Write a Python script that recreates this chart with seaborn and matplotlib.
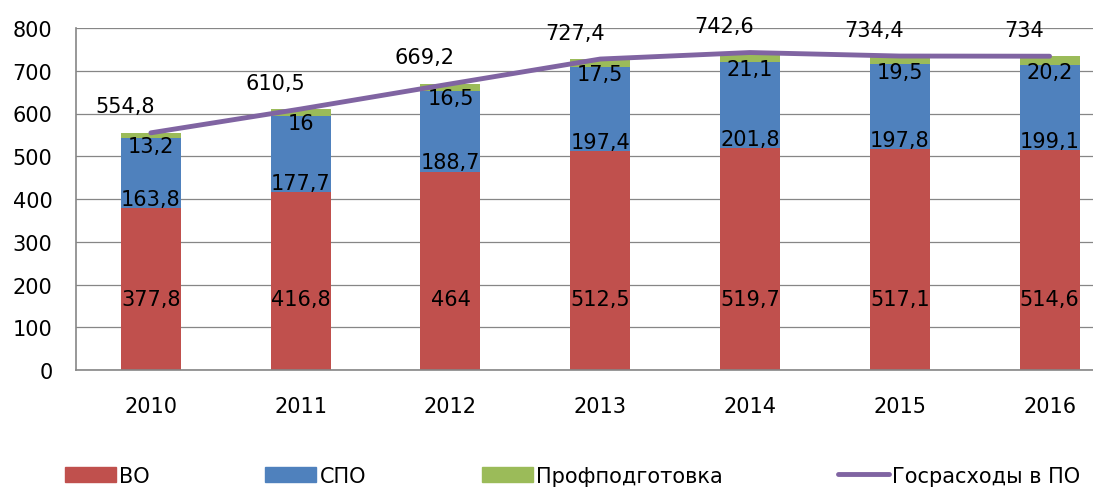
import matplotlib
matplotlib.use("Agg")
import matplotlib.pyplot as plt
import seaborn as sns
import numpy as np
import pandas as pd
from matplotlib.patches import Patch
from matplotlib.lines import Line2D

# Data
years = ["2010", "2011", "2012", "2013", "2014", "2015", "2016"]
vo = [377.8, 416.8, 464, 512.5, 519.7, 517.1, 514.6]
spo = [163.8, 177.7, 188.7, 197.4, 201.8, 197.8, 199.1]
prof = [13.2, 16, 16.5, 17.5, 21.1, 19.5, 20.2]
gos = [554.8, 610.5, 669.2, 727.4, 742.6, 734.4, 734]

red = "#C0504D"
blue = "#4F81BD"
green = "#9BBB59"
purple = "#8064A2"

def fmt(v):
    s = f"{v:g}"
    return s.replace(".", ",")

df = pd.DataFrame({"year": years, "vo": vo, "spo": spo, "prof": prof, "gos": gos})
df["vo_spo"] = df["vo"] + df["spo"]
df["all"] = df["vo_spo"] + df["prof"]

sns.set_style("white")
plt.rcParams["font.family"] = ["DejaVu Sans"]
plt.rcParams["text.color"] = "black"
plt.rcParams["xtick.color"] = "black"
plt.rcParams["ytick.color"] = "black"

fig = plt.figure(figsize=(10.93, 4.89), dpi=100)
ax = fig.add_axes([76 / 1093, 118 / 489, 1017 / 1093, 342 / 489])

# stacked bars: draw the tallest first, then cover
bar_kw = dict(width=0.4, saturation=1, linewidth=0, ax=ax, zorder=2)
sns.barplot(data=df, x="year", y="all", color=green, **bar_kw)
sns.barplot(data=df, x="year", y="vo_spo", color=blue, **bar_kw)
sns.barplot(data=df, x="year", y="vo", color=red, **bar_kw)

xs = np.arange(len(years))
sns.lineplot(x=xs, y=df["gos"], color=purple, linewidth=3.5, ax=ax, zorder=4)

# data labels
for i in range(len(years)):
    ax.text(i, 166, fmt(vo[i]), ha="center", va="center", fontsize=15, zorder=3)
    ax.text(i, vo[i] - 2, fmt(spo[i]), ha="center", va="bottom", fontsize=15, zorder=3)
    ax.text(i, df["vo_spo"][i] + 6, fmt(prof[i]), ha="center", va="top", fontsize=15, zorder=3)
    ax.text(i - 0.17, min(gos[i] + 62, 810), fmt(gos[i]), ha="center", va="center", fontsize=15, zorder=3)

ax.set_xlim(-0.5, 6.29)
ax.set_ylim(0, 800)
ax.set_yticks(range(0, 801, 100))
ax.yaxis.grid(True, color="#868686", linewidth=0.9, zorder=0)
ax.set_axisbelow(True)
ax.set_xlabel("")
ax.set_ylabel("")

for s in ["top", "right"]:
    ax.spines[s].set_visible(False)
for s in ["left", "bottom"]:
    ax.spines[s].set_color("#868686")
    ax.spines[s].set_linewidth(1.2)

ax.set_xticks(xs)
ax.set_xticklabels(years)
ax.set_xticks(np.arange(-0.5, 6.5, 1), minor=True)
ax.tick_params(axis="x", which="major", length=0, pad=19, labelsize=15)
ax.tick_params(axis="x", which="minor", length=6, width=1.2, color="#868686", direction="out")
ax.tick_params(axis="y", length=6, width=1.2, color="#868686", labelcolor="black",
               direction="out", pad=11, labelsize=15)

handles = [
    Patch(color=red, label="ВО"),
    Patch(color=blue, label="СПО"),
    Patch(color=green, label="Профподготовка"),
    Line2D([0], [0], color=purple, linewidth=3.5, label="Госрасходы в ПО"),
]
fig.legend(handles=handles, loc="center left", bbox_to_anchor=(65 / 1093, 0.025), ncol=4,
           frameon=False, fontsize=15, handlelength=2.45, handleheight=0.75,
           handletextpad=0.15, columnspacing=5.55, borderaxespad=0, borderpad=0)

fig.savefig("out.png", dpi=100)
